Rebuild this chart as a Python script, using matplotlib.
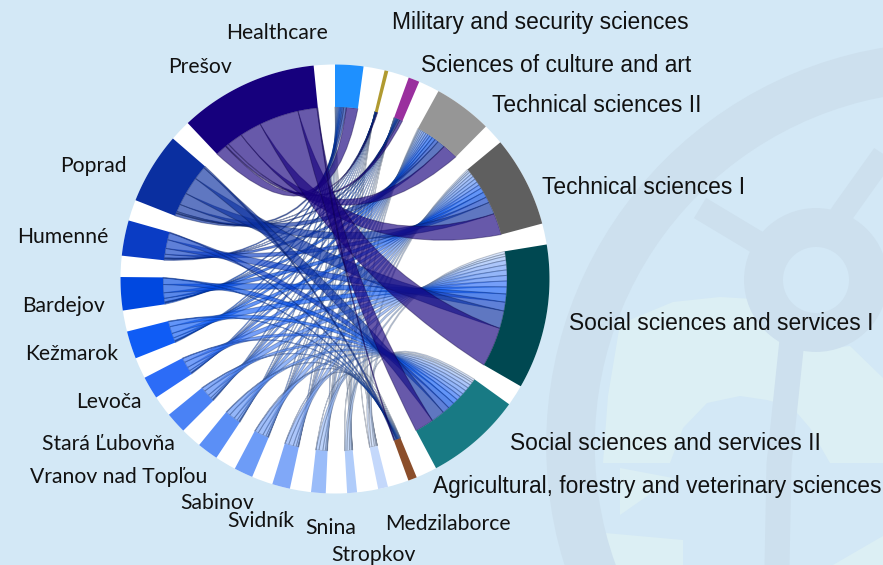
#!/usr/bin/env python3
"""Chord diagram: study fields against districts of the Prešov region."""

import numpy as np
import matplotlib
matplotlib.use('Agg')
import matplotlib.pyplot as plt
from matplotlib.colors import to_rgb, to_rgba
from matplotlib.patches import Circle, PathPatch, Polygon
from matplotlib.path import Path

# ---------------------------------------------------------------------------
# Data (shares read off the ring, clockwise from the top)
# ---------------------------------------------------------------------------
fields = ['Healthcare', 'Military and security sciences', 'Sciences of culture and art',
          'Technical sciences II', 'Technical sciences I', 'Social sciences and services I',
          'Social sciences and services II', 'Agricultural, forestry and veterinary sciences']
districts = ['Prešov', 'Poprad', 'Humenné', 'Bardejov', 'Kežmarok', 'Levoča', 'Stará Ľubovňa',
             'Vranov nad Topľou', 'Sabinov', 'Svidník', 'Snina', 'Stropkov', 'Medzilaborce']

# one row per district, columns in the order of fields
flows = [
    [3.9, 0.2, 1.0, 5.3, 7.4, 13.5, 6.5, 0.3],
    [0.9, 0.2, 0.5, 2.6, 4.2, 6.0, 4.6, 0.6],
    [0.5, 0.1, 0.25, 1.2, 2.0, 3.0, 2.4, 0.25],
    [0.45, 0.1, 0.25, 1.2, 1.9, 2.8, 2.2, 0.2],
    [0.35, 0.1, 0.2, 1.0, 1.6, 2.4, 1.75, 0.2],
    [0.3, 0.05, 0.15, 0.8, 1.3, 2.0, 1.45, 0.15],
    [0.3, 0.05, 0.15, 0.75, 1.2, 1.9, 1.3, 0.15],
    [0.25, 0.05, 0.15, 0.75, 1.2, 1.85, 1.4, 0.15],
    [0.25, 0.05, 0.1, 0.65, 1.1, 1.7, 1.25, 0.1],
    [0.2, 0.05, 0.1, 0.6, 1.0, 1.6, 1.25, 0.1],
    [0.15, 0.03, 0.1, 0.5, 0.85, 1.3, 1.0, 0.07],
    [0.1, 0.02, 0.05, 0.35, 0.6, 0.85, 0.68, 0.05],
    [0.1, 0.02, 0.05, 0.35, 0.55, 0.85, 0.7, 0.08],
]

# ---------------------------------------------------------------------------
# Style
# ---------------------------------------------------------------------------
BG = '#d3e8f6'
SHAPE = '#cde0ee'
PALE = '#dceff4'
CX, CY = 335, 279
R_OUT, R_IN = 214.5, 172
GAP = 5.72
PULL = 0.15  # how far the ribbon control point leaves the centre

field_colors = ['#1e90ff', '#b09a30', '#9a2f9e', '#969696', '#5f5f5f', '#004851', '#187a84', '#8b4e2b']
district_colors = ['#16007d', '#0a2fa0', '#0a3cc4', '#0048e0', '#0f5cf5', '#2c6cf7', '#4a82f5',
                   '#5b8ff6', '#6d9cf7', '#80a8f8', '#9abcf9', '#b0ccfa', '#c4d8fb']

field_labels = [(226, 33), (392, 22), (421, 65), (492, 105), (542, 188), (569, 323), (510, 443), (433, 487)]
district_labels = [(168, 67), (60, 166), (17, 237), (22, 306), (25, 354), (76, 402), (42, 444),
                   (30, 477), (180, 503), (227, 521), (305, 528), (331, 555), (385, 524)]

# ---------------------------------------------------------------------------
# Layout of the ring
# ---------------------------------------------------------------------------
flows = np.array(flows)
scale = (360 - GAP * (len(fields) + len(districts))) / flows.sum() / 2


def xy(angle, r):
    # angle is clockwise from the top, in degrees; y axis points down
    a = np.radians(angle)
    return CX + r * np.sin(a), CY - r * np.cos(a)


def arc(a0, a1, r, n=24):
    return [xy(a, r) for a in np.linspace(a0, a1, n)]


fig = plt.figure(figsize=(8.83, 5.65), dpi=100, facecolor=BG)
ax = fig.add_axes([0, 0, 1, 1])
ax.set_xlim(0, 883)
ax.set_ylim(565, 0)
ax.axis('off')

# watermark logo in the background
ax.add_patch(Polygon([(603, 463), (608, 396), (620, 324), (673, 302), (720, 297), (753, 299), (803, 351),
                      (850, 346), (883, 378), (883, 463)], fc=PALE, ec='none', zorder=1))
ax.add_patch(Polygon([(670, 463), (683, 428), (707, 403), (740, 396), (767, 400), (792, 407), (810, 428),
                      (830, 463)], fc=BG, ec='none', zorder=1))
ax.add_patch(Polygon([(620, 468), (620, 515), (673, 478)], fc=PALE, ec='none', zorder=1))
ax.add_patch(Polygon([(605, 533), (683, 540), (683, 565), (610, 565)], fc=PALE, ec='none', zorder=1))
ax.add_patch(Polygon([(833, 565), (883, 536), (883, 565)], fc=PALE, ec='none', zorder=1))
ax.add_patch(Circle((949, 445), 378.5, fc='none', ec=SHAPE, lw=35, zorder=1.1))
ax.add_patch(Circle((816, 280), 52.5, fc='none', ec=SHAPE, lw=28, zorder=1.1))
ax.plot([770, 700], [250, 208], color=SHAPE, lw=17, solid_capstyle='butt', zorder=1.1)
ax.plot([835, 843, 883, 900], [225, 212, 156, 130], color=SHAPE, lw=17, solid_capstyle='butt', zorder=1.1)
ax.plot([792, 779, 777], [340, 464, 566], color=SHAPE, lw=18, solid_capstyle='butt', zorder=1.1)

ax.add_patch(Circle((CX, CY), R_OUT, fc='white', ec='none', zorder=2))

# walk clockwise: the fields first, then the districts (last district first)
angle = 0.0
field_start = []
for j in range(len(fields)):
    field_start.append(angle)
    angle += flows[:, j].sum() * scale + GAP
district_start = [0.0] * len(districts)
for i in range(len(districts) - 1, -1, -1):
    district_start[i] = angle
    angle += flows[i].sum() * scale + GAP


def ring(a0, a1, color):
    pts = arc(a0, a1, R_OUT, 60) + arc(a1, a0, R_IN, 60)
    ax.add_patch(Polygon(pts, closed=True, fc=color, ec='none', zorder=5))


def control(p, q):
    return CX + PULL * ((p[0] + q[0]) / 2 - CX), CY + PULL * ((p[1] + q[1]) / 2 - CY)


def ribbon(a0, a1, b0, b1, color, alpha, zorder):
    c1 = control(xy(a1, R_IN), xy(b0, R_IN))
    c2 = control(xy(b1, R_IN), xy(a0, R_IN))
    verts = arc(a0, a1, R_IN) + [c1] + arc(b0, b1, R_IN) + [c2, xy(a0, R_IN), xy(a0, R_IN)]
    codes = [Path.MOVETO] + [Path.LINETO] * 23 + [Path.CURVE3, Path.CURVE3] + [Path.LINETO] * 23
    codes += [Path.CURVE3, Path.CURVE3, Path.CLOSEPOLY]
    edge = tuple(0.5 * v for v in to_rgb(color)) + (0.4,)
    ax.add_patch(PathPatch(Path(verts, codes), fc=to_rgba(color, alpha), ec=edge, lw=0.7, zorder=zorder))


# field side: Prešov sits at the clockwise end, Medzilaborce at the other end
# district side: Healthcare comes first going clockwise, so the ribbons of a district cross
n_d, n_f = flows.shape
field_pos = {}
for j in range(n_f):
    a = field_start[j]
    for i in range(n_d - 1, -1, -1):
        w = flows[i, j] * scale
        field_pos[i, j] = (a, a + w)
        a += w
district_pos = {}
for i in range(n_d):
    a = district_start[i]
    for j in range(n_f):
        w = flows[i, j] * scale
        district_pos[i, j] = (a, a + w)
        a += w

# small districts go below, Prešov on top
for i in range(n_d - 1, -1, -1):
    for j in range(n_f):
        ribbon(*district_pos[i, j], *field_pos[i, j], district_colors[i], 0.65, 3 + (n_d - i) * 0.01)

for j in range(n_f):
    ring(field_start[j], field_start[j] + flows[:, j].sum() * scale, field_colors[j])
for i in range(n_d):
    ring(district_start[i], district_start[i] + flows[i].sum() * scale, district_colors[i])

# ---------------------------------------------------------------------------
# Labels
# ---------------------------------------------------------------------------
for name, (x, y) in zip(fields, field_labels):
    family = 'Lato' if name == 'Healthcare' else 'Liberation Sans'
    ax.text(x, y, name, family=family, fontsize=15.2 if name == 'Healthcare' else 16.4,
            color='#111111', ha='left', va='center', zorder=6)
for name, (x, y) in zip(districts, district_labels):
    ax.text(x, y, name, family='Lato', fontsize=15.2, color='#111111', ha='left', va='center', zorder=6)

fig.savefig('out.png', dpi=100, facecolor=BG)
